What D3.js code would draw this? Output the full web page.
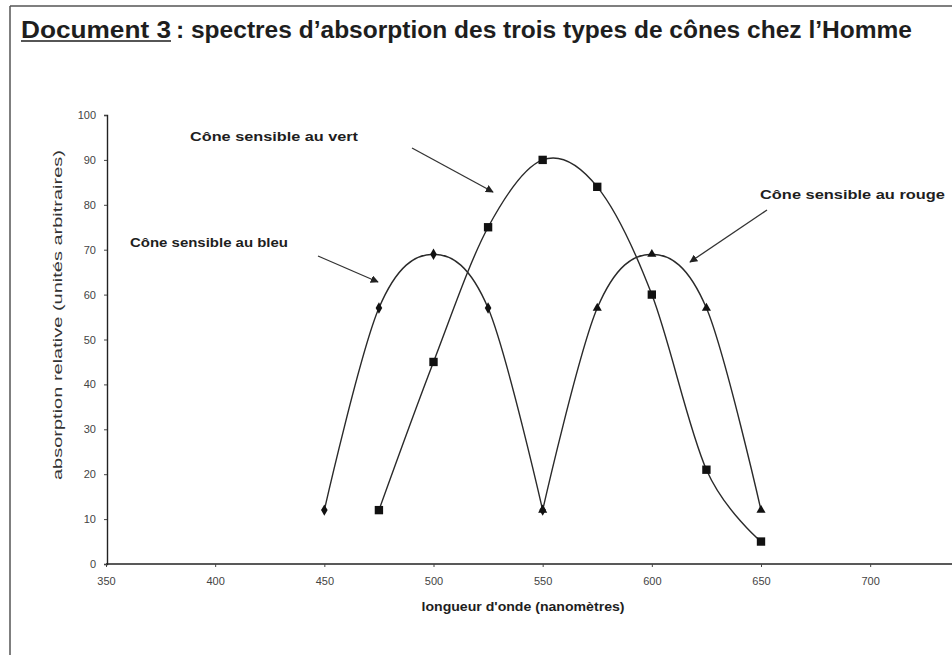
<!DOCTYPE html>
<html>
<head>
<meta charset="utf-8">
<script src="https://cdn.jsdelivr.net/npm/d3@7"></script>
<style>
  body { margin: 0; background: #fff; }
  text { font-family: "Liberation Sans", Arial, sans-serif; fill: #1e1e1e; }
</style>
</head>
<body>
<script>
// wavelengths (nm) and relative absorption
var bleuX = [450, 475, 500, 525, 550];
var bleuY = [12, 57, 69, 57, 12];

var vertX = [475, 500, 525, 550, 575, 600, 625, 650];
var vertY = [12, 45, 75, 90, 84, 60, 21, 5];

var rougeX = [550, 575, 600, 625, 650];
var rougeY = [12, 57, 69, 57, 12];

var xTicks = [350, 400, 450, 500, 550, 600, 650, 700];
var yTicks = [0, 10, 20, 30, 40, 50, 60, 70, 80, 90, 100];

var W = 952, H = 655;
var svg = d3.select("body").append("svg").attr("width", W).attr("height", H);

// document frame (only top + left edges show in the scan)
svg.append("line").attr("x1", 10).attr("y1", 6).attr("x2", W).attr("y2", 6)
  .attr("stroke", "#555").attr("stroke-width", 1.5);
svg.append("line").attr("x1", 10).attr("y1", 6).attr("x2", 10).attr("y2", H)
  .attr("stroke", "#555").attr("stroke-width", 1.5);

// title
svg.append("text").attr("x", 21).attr("y", 38)
  .style("font-size", "23px").style("font-weight", "bold")
  .attr("textLength", 150).attr("lengthAdjust", "spacingAndGlyphs")
  .text("Document 3");
svg.append("line").attr("x1", 21).attr("x2", 171).attr("y1", 41).attr("y2", 41)
  .attr("stroke", "#1e1e1e").attr("stroke-width", 1.6);
svg.append("text").attr("x", 176).attr("y", 38)
  .style("font-size", "23px").style("font-weight", "bold")
  .attr("textLength", 736).attr("lengthAdjust", "spacingAndGlyphs")
  .text(": spectres d\u2019absorption des trois types de cônes chez l\u2019Homme");

// scales
var x = d3.scaleLinear().domain([350, 650]).range([106, 761]);
var y = d3.scaleLinear().domain([0, 100]).range([564, 115]);

// axes
var xAxis = svg.append("g").attr("transform", "translate(0," + y(0) + ")")
  .call(d3.axisBottom(x).tickValues(xTicks).tickSize(3).tickPadding(10));
xAxis.select(".domain").attr("d", "M" + x(350) + ",0H" + W);
var yAxis = svg.append("g").attr("transform", "translate(" + (x(350) + 1) + ",0)")
  .call(d3.axisLeft(y).tickValues(yTicks).tickSize(3).tickPadding(8));

svg.selectAll(".domain").attr("stroke", "#222").attr("stroke-width", 1.4);
svg.selectAll(".tick line").attr("stroke", "#444");
svg.selectAll(".tick text")
  .style("font-family", "'Liberation Sans Narrow', 'Liberation Sans', sans-serif")
  .style("font-size", "11px").style("fill", "#444");

// axis titles
svg.append("text").attr("x", 523).attr("y", 611).attr("text-anchor", "middle")
  .style("font-size", "12px").style("font-weight", "bold")
  .attr("textLength", 203).attr("lengthAdjust", "spacingAndGlyphs")
  .text("longueur d'onde (nanomètres)");
svg.append("text").attr("transform", "translate(62,315) rotate(-90)")
  .attr("text-anchor", "middle")
  .style("font-size", "12px").style("fill", "#333")
  .attr("textLength", 330).attr("lengthAdjust", "spacingAndGlyphs")
  .text("absorption relative (unités arbitraires)");

// curves
var line = d3.line().curve(d3.curveCardinal.tension(0))
  .x(function(d){ return x(d[0]); })
  .y(function(d){ return y(d[1]); });

function pairs(xs, ys){ return xs.map(function(v, i){ return [v, ys[i]]; }); }

var series = [
  { pts: pairs(bleuX, bleuY), sym: d3.symbolDiamond, size: 38 },
  { pts: pairs(vertX, vertY), sym: d3.symbolSquare, size: 70 },
  { pts: pairs(rougeX, rougeY), sym: d3.symbolTriangle, size: 36 }
];

series.forEach(function(s){
  svg.append("path").datum(s.pts).attr("d", line)
    .attr("fill", "none").attr("stroke", "#2a2a2a").attr("stroke-width", 1.4);
  svg.selectAll(null).data(s.pts).enter().append("path")
    .attr("transform", function(d){ return "translate(" + x(d[0]) + "," + y(d[1]) + ")"; })
    .attr("d", d3.symbol().type(s.sym).size(s.size))
    .attr("fill", "#111");
});

// annotations with arrows
svg.append("defs").append("marker").attr("id", "head")
  .attr("viewBox", "0 0 10 10").attr("refX", 9).attr("refY", 5)
  .attr("markerWidth", 8).attr("markerHeight", 8).attr("orient", "auto")
  .attr("markerUnits", "userSpaceOnUse")
  .append("path").attr("d", "M0,0L10,5L0,10z").attr("fill", "#222");

var notes = [
  { txt: "Cône sensible au vert", tx: 190, ty: 141, w: 168, a: [412, 148, 493, 192] },
  { txt: "Cône sensible au bleu", tx: 130, ty: 247, w: 158, a: [318, 256, 378, 282] },
  { txt: "Cône sensible au rouge", tx: 760, ty: 199, w: 185, a: [767, 210, 690, 262] }
];
notes.forEach(function(n){
  svg.append("text").attr("x", n.tx).attr("y", n.ty)
    .style("font-size", "12px").style("font-weight", "bold")
    .attr("textLength", n.w).attr("lengthAdjust", "spacingAndGlyphs")
    .text(n.txt);
  svg.append("line").attr("x1", n.a[0]).attr("y1", n.a[1]).attr("x2", n.a[2]).attr("y2", n.a[3])
    .attr("stroke", "#333").attr("stroke-width", 1.3).attr("marker-end", "url(#head)");
});
</script>
</body>
</html>
